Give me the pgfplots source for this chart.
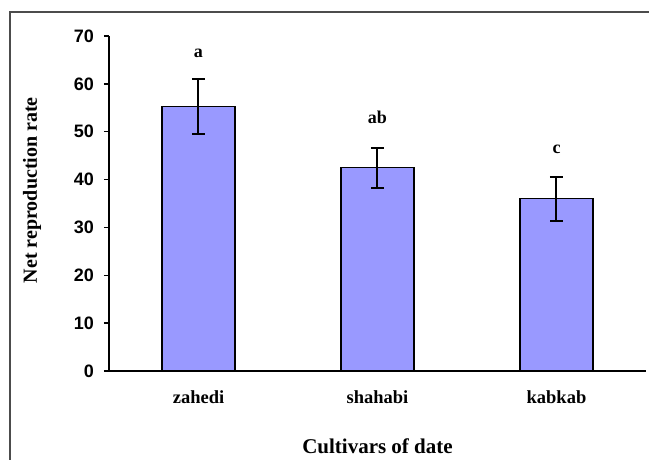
\documentclass[border=0pt]{standalone}
\usepackage{fontspec}
\setmainfont{Liberation Serif}
\newfontfamily\arial{Liberation Sans}
\usepackage{pgfplots}
\pgfplotsset{compat=1.18}
\definecolor{barfill}{RGB}{153,153,255}
\begin{document}
\begin{tikzpicture}
\useasboundingbox (-109pt,-89pt) rectangle (540pt,371pt);
\draw[line width=1.2pt, black!70] (-99pt,-95pt) -- (-99pt,359pt) -- (545pt,359pt);
\begin{axis}[
  at={(0pt,0pt)}, anchor=south west,
  scale only axis, width=537pt, height=335pt,
  xmin=-0.5, xmax=2.5, ymin=0, ymax=70,
  axis lines*=left,
  axis line style={-, line width=1.5pt, black},
  ytick={0,10,...,70},
  xtick={0,1,2}, xticklabels={zahedi,shahabi,kabkab},
  tick align=outside,
  major tick length=5pt,
  tick style={line width=1.5pt, black},
  x tick style={draw=none},
  extra x ticks={-0.5,0.5,1.5,2.5},
  extra x tick labels={},
  extra x tick style={tick style={line width=1.5pt, black, draw=black}, major tick length=5pt},
  /pgf/number format/assume math mode=true,
  y tick label style={font=\arial\bfseries\fontsize{18}{18}\selectfont, anchor=east, inner sep=0pt, xshift=-10pt},
  x tick label style={font=\bfseries\fontsize{18.5}{18.5}\selectfont, anchor=base, inner sep=0pt, yshift=-28pt},
  xlabel={Cultivars of date},
  xlabel style={font=\bfseries\fontsize{21}{21}\selectfont, at={(axis description cs:0.5,0)}, anchor=base, inner sep=0pt, yshift=-83pt},
  ylabel={Net reproduction rate},
  ylabel style={font=\bfseries\fontsize{20}{20}\selectfont, at={(axis description cs:0,0.54)}, anchor=base, inner sep=0pt, yshift=72pt},
  clip=false,
]
\addplot[ybar, bar width=73pt, fill=barfill, draw=black, line width=1.5pt,
  error bars/.cd, y dir=both, y explicit,
  error bar style={line width=2pt, black, solid},
  error mark options={rotate=90, mark size=6.5pt, line width=2pt, black}]
  coordinates {(0,55.3) +- (0,5.75) (1,42.5) +- (0,4.2) (2,36.0) +- (0,4.6)};
\node[font=\bfseries\fontsize{18}{18}\selectfont, anchor=base, inner sep=0pt] at (axis cs:0,65.6) {a};
\node[font=\bfseries\fontsize{18}{18}\selectfont, anchor=base, inner sep=0pt] at (axis cs:1,51.8) {ab};
\node[font=\bfseries\fontsize{18}{18}\selectfont, anchor=base, inner sep=0pt] at (axis cs:2,45.5) {c};
\end{axis}
\end{tikzpicture}
\end{document}
